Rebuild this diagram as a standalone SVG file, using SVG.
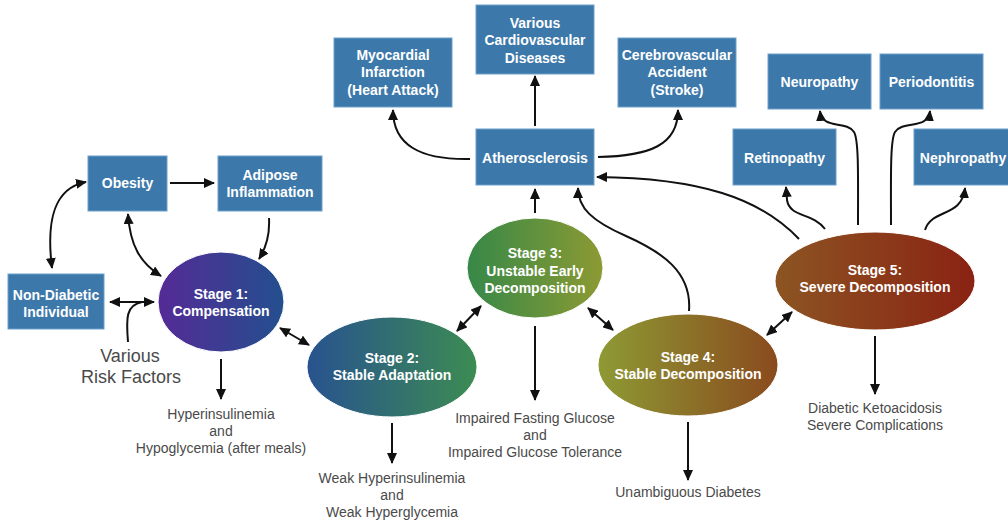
<svg xmlns="http://www.w3.org/2000/svg" width="1008" height="524" viewBox="0 0 1008 524">
  <style>
    .box { fill: #3c78aa; stroke: #6d9fcb; stroke-width: 1; }
    .bt { font-family: "Liberation Sans", Arial, sans-serif; font-weight: bold; font-size: 14px; fill: #ffffff; text-anchor: middle; }
    .st { font-family: "Liberation Sans", Arial, sans-serif; font-weight: bold; font-size: 14px; fill: #ffffff; text-anchor: middle; }
    .lbl { font-family: "Liberation Sans", Arial, sans-serif; font-size: 14px; fill: #4a4a4a; text-anchor: middle; }
    .big { font-size: 18px; }
    .cn { fill: none; stroke: #111111; stroke-width: 2; }
    .one { marker-end: url(#ah); }
    .two { marker-start: url(#ah); marker-end: url(#ah); }
  </style>
  <defs>
    <marker id="ah" markerUnits="userSpaceOnUse" markerWidth="11" markerHeight="10" viewBox="0 0 11 10" refX="10" refY="5" orient="auto-start-reverse">
      <path d="M0,0 L11,5 L0,10 z" fill="#111111"/>
    </marker>
    <linearGradient id="g1" x1="0" y1="0" x2="1" y2="0">
      <stop offset="0" stop-color="#552a96"/>
      <stop offset="1" stop-color="#234f8e"/>
    </linearGradient>
    <linearGradient id="g2" x1="0" y1="0" x2="1" y2="0">
      <stop offset="0" stop-color="#28528f"/>
      <stop offset="1" stop-color="#3c8c52"/>
    </linearGradient>
    <linearGradient id="g3" x1="0" y1="0" x2="1" y2="0">
      <stop offset="0" stop-color="#368848"/>
      <stop offset="1" stop-color="#8c9a33"/>
    </linearGradient>
    <linearGradient id="g4" x1="0" y1="0" x2="1" y2="0">
      <stop offset="0" stop-color="#8e9a34"/>
      <stop offset="1" stop-color="#8a4a1e"/>
    </linearGradient>
    <linearGradient id="g5" x1="0" y1="0" x2="1" y2="0">
      <stop offset="0" stop-color="#8c5522"/>
      <stop offset="1" stop-color="#8a2213"/>
    </linearGradient>
  </defs>

  <!-- connectors -->
  <g id="connectors">
    <!-- left cluster -->
    <path class="cn two" d="M52,268 C46,220 54,188 86,182"/>
    <path class="cn two" d="M128,214 C130,245 140,263 161,276"/>
    <path class="cn one" d="M170,183 L214,183"/>
    <path class="cn one" d="M269,218 C270,236 266,248 259,259"/>
    <path class="cn two" d="M110,302 L154,302"/>
    <path class="cn" d="M128,342 C126,318 126,305 142,302"/>
    <!-- stage links -->
    <path class="cn two" d="M280,328 L309,345"/>
    <path class="cn two" d="M457,331 L481,306"/>
    <path class="cn two" d="M588,308 L613,330"/>
    <path class="cn two" d="M767,335 L792,312"/>
    <!-- outcomes -->
    <path class="cn one" d="M221,359 L221,399"/>
    <path class="cn one" d="M392,423 L392,463"/>
    <path class="cn one" d="M535,326 L535,400"/>
    <path class="cn one" d="M688,422 L688,480"/>
    <path class="cn one" d="M875,336 L875,394"/>
    <!-- atherosclerosis -->
    <path class="cn one" d="M535,213 L535,189"/>
    <path class="cn one" d="M689,311 C692,272 662,252 626,236 C592,221 578,208 578,188"/>
    <path class="cn one" d="M799,239 C760,198 700,178 597,177"/>
    <path class="cn one" d="M535,126 L535,76"/>
    <path class="cn one" d="M470,159 C420,160 393,145 393,110"/>
    <path class="cn one" d="M598,157 C650,156 678,145 678,110"/>
    <!-- complications -->
    <path class="cn one" d="M825,229 C812,212 790,218 787,200 L786,187"/>
    <path class="cn one" d="M858,225 C858,180 859,140 854,132 C846,120 822,130 820,111"/>
    <path class="cn one" d="M891,225 C891,180 890,140 895,132 C903,120 928,130 930,111"/>
    <path class="cn one" d="M925,230 C932,208 962,218 965,188"/>
  </g>

  <!-- boxes -->
  <g id="obesity"><rect class="box" x="88" y="156" width="79" height="55"/><text class="bt" x="127.5" y="188">Obesity</text></g>
  <g id="adipose"><rect class="box" x="218" y="156" width="104" height="55"/><text class="bt" x="270" y="180">Adipose</text><text class="bt" x="270" y="197">Inflammation</text></g>
  <g id="nondiabetic"><rect class="box" x="8" y="274" width="96" height="55"/><text class="bt" x="56" y="300">Non-Diabetic</text><text class="bt" x="56" y="317">Individual</text></g>
  <g id="myocardial"><rect class="box" x="334" y="38" width="118" height="69"/><text class="bt" x="393" y="60">Myocardial</text><text class="bt" x="393" y="77">Infarction</text><text class="bt" x="393" y="95">(Heart Attack)</text></g>
  <g id="cardio"><rect class="box" x="476" y="5" width="118" height="69"/><text class="bt" x="535" y="28">Various</text><text class="bt" x="535" y="45">Cardiovascular</text><text class="bt" x="535" y="63">Diseases</text></g>
  <g id="cerebro"><rect class="box" x="618" y="38" width="118" height="69"/><text class="bt" x="677" y="60">Cerebrovascular</text><text class="bt" x="677" y="77">Accident</text><text class="bt" x="677" y="95">(Stroke)</text></g>
  <g id="athero"><rect class="box" x="476" y="129" width="118" height="56"/><text class="bt" x="535" y="163">Atherosclerosis</text></g>
  <g id="neuropathy"><rect class="box" x="768" y="54" width="103" height="55"/><text class="bt" x="819.5" y="87">Neuropathy</text></g>
  <g id="periodontitis"><rect class="box" x="880" y="54" width="103" height="55"/><text class="bt" x="931.5" y="87">Periodontitis</text></g>
  <g id="retinopathy"><rect class="box" x="733" y="129" width="103" height="56"/><text class="bt" x="784.5" y="163">Retinopathy</text></g>
  <g id="nephropathy"><rect class="box" x="914" y="129" width="103" height="56"/><text class="bt" x="963" y="163">Nephropathy</text></g>

  <!-- stages -->
  <g id="stage1"><ellipse cx="221" cy="302" rx="63" ry="50" fill="url(#g1)" stroke="#ffffff" stroke-width="1"/><text class="st" x="221" y="299">Stage 1:</text><text class="st" x="221" y="316">Compensation</text></g>
  <g id="stage2"><ellipse cx="392" cy="367" rx="85" ry="50" fill="url(#g2)" stroke="#ffffff" stroke-width="1"/><text class="st" x="392" y="363">Stage 2:</text><text class="st" x="392" y="380">Stable Adaptation</text></g>
  <g id="stage3"><ellipse cx="535" cy="268" rx="68" ry="50" fill="url(#g3)" stroke="#ffffff" stroke-width="1"/><text class="st" x="535" y="258">Stage 3:</text><text class="st" x="535" y="276">Unstable Early</text><text class="st" x="535" y="293">Decomposition</text></g>
  <g id="stage4"><ellipse cx="688" cy="365" rx="90" ry="51" fill="url(#g4)" stroke="#ffffff" stroke-width="1"/><text class="st" x="688" y="362">Stage 4:</text><text class="st" x="688" y="379">Stable Decomposition</text></g>
  <g id="stage5"><ellipse cx="875" cy="281" rx="100" ry="49" fill="url(#g5)" stroke="#ffffff" stroke-width="1"/><text class="st" x="875" y="275">Stage 5:</text><text class="st" x="875" y="292">Severe Decomposition</text></g>

  <!-- outcome labels -->
  <g id="risk"><text class="lbl big" x="130" y="362">Various</text><text class="lbl big" x="131" y="383">Risk Factors</text></g>
  <g id="out1"><text class="lbl" x="221" y="419">Hyperinsulinemia</text><text class="lbl" x="221" y="436">and</text><text class="lbl" x="221" y="453">Hypoglycemia (after meals)</text></g>
  <g id="out2"><text class="lbl" x="392" y="483">Weak Hyperinsulinemia</text><text class="lbl" x="392" y="500">and</text><text class="lbl" x="392" y="517">Weak Hyperglycemia</text></g>
  <g id="out3"><text class="lbl" x="535" y="423">Impaired Fasting Glucose</text><text class="lbl" x="535" y="440">and</text><text class="lbl" x="535" y="457">Impaired Glucose Tolerance</text></g>
  <g id="out4"><text class="lbl" x="688" y="497">Unambiguous Diabetes</text></g>
  <g id="out5"><text class="lbl" x="875" y="413">Diabetic Ketoacidosis</text><text class="lbl" x="875" y="430">Severe Complications</text></g>
</svg>
